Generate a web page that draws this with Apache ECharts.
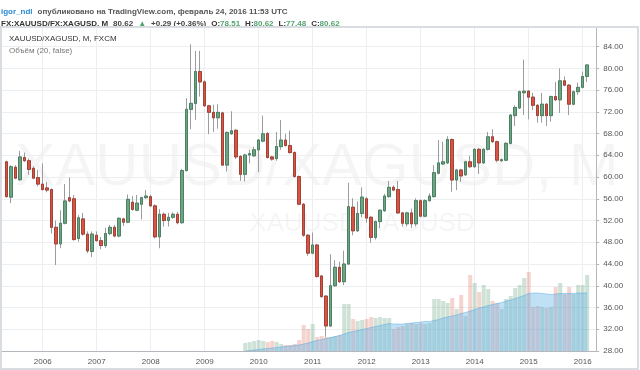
<!DOCTYPE html>
<html><head><meta charset="utf-8">
<script src="https://cdn.jsdelivr.net/npm/echarts@6/dist/echarts.min.js"></script>
<style>html,body{margin:0;padding:0;background:#fff}#c{width:640px;height:370px}</style>
</head><body><div id="c"></div>
<script>
// Month categories (first and last slots are empty padding months)
const months = [
 '2005-04','2005-05','2005-06','2005-07','2005-08','2005-09','2005-10','2005-11','2005-12',
 '2006-01','2006-02','2006-03','2006-04','2006-05','2006-06','2006-07','2006-08','2006-09','2006-10','2006-11','2006-12',
 '2007-01','2007-02','2007-03','2007-04','2007-05','2007-06','2007-07','2007-08','2007-09','2007-10','2007-11','2007-12',
 '2008-01','2008-02','2008-03','2008-04','2008-05','2008-06','2008-07','2008-08','2008-09','2008-10','2008-11','2008-12',
 '2009-01','2009-02','2009-03','2009-04','2009-05','2009-06','2009-07','2009-08','2009-09','2009-10','2009-11','2009-12',
 '2010-01','2010-02','2010-03','2010-04','2010-05','2010-06','2010-07','2010-08','2010-09','2010-10','2010-11','2010-12',
 '2011-01','2011-02','2011-03','2011-04','2011-05','2011-06','2011-07','2011-08','2011-09','2011-10','2011-11','2011-12',
 '2012-01','2012-02','2012-03','2012-04','2012-05','2012-06','2012-07','2012-08','2012-09','2012-10','2012-11','2012-12',
 '2013-01','2013-02','2013-03','2013-04','2013-05','2013-06','2013-07','2013-08','2013-09','2013-10','2013-11','2013-12',
 '2014-01','2014-02','2014-03','2014-04','2014-05','2014-06','2014-07','2014-08','2014-09','2014-10','2014-11','2014-12',
 '2015-01','2015-02','2015-03','2015-04','2015-05','2015-06','2015-07','2015-08','2015-09','2015-10','2015-11','2015-12',
 '2016-01','2016-02','2016-03','2016-04'
];
const firstBarMonth = '2005-05';

const open = [62.8,56.3,61.8,59.5,63.6,63.0,61.6,59.9,58.7,58.0,
 57.7,50.75,47.7,51.5,56.2,56.0,48.7,52.3,49.5,46.3,
 49.3,48.3,47.4,49.6,50.75,49.15,52.3,51.7,55.35,53.9,
 55.0,56.2,56.4,54.7,49.0,53.15,52.0,52.6,53.15,51.6,
 61.2,72.45,73.55,79.4,77.5,73.1,71.9,70.9,71.8,62.2,
 67.95,68.6,63.8,60.5,64.05,63.9,65.0,66.6,68.0,63.7,
 63.4,65.6,66.8,65.8,64.5,60.1,55.0,49.3,46.0,47.5,
 41.8,38.1,32.6,40.0,43.4,40.75,44.0,54.45,50.1,53.3,
 56.0,52.6,48.9,51.8,53.8,56.4,58.1,57.7,53.4,51.4,
 53.4,51.4,55.65,52.8,55.65,56.4,60.7,62.4,62.6,66.9,
 59.45,61.3,60.4,62.8,61.9,65.1,62.6,65.1,67.4,66.5,
 63.0,63.1,66.2,71.3,72.7,75.5,75.8,74.7,73.2,71.3,
 73.4,71.3,74.8,74.2,77.7,76.9,73.4,75.7,76.5,78.51];
const high = [63.0,62.2,62.2,64.8,64.5,63.4,62.0,61.3,62.5,59.1,
 57.9,52.0,53.9,58.7,59.9,56.7,53.0,53.4,50.0,50.0,
 50.0,49.0,50.7,51.2,51.2,52.6,52.5,56.8,56.5,56.7,
 56.4,57.6,56.8,55.0,54.1,53.5,53.4,53.5,53.6,61.5,
 74.5,84.4,83.2,83.2,77.8,73.3,73.3,73.4,72.0,68.4,
 72.1,68.8,64.0,64.3,65.0,65.6,67.0,71.3,68.3,63.9,
 68.3,70.5,67.95,68.5,64.7,60.3,55.2,49.5,49.8,47.7,
 42.0,38.3,45.8,44.7,44.4,46.45,58.96,56.1,55.5,58.1,
 56.3,52.8,52.0,54.0,56.9,59.3,58.5,59.3,53.6,53.6,
 54.2,56.1,55.9,55.9,57.0,62.2,66.8,66.5,67.5,67.1,
 61.5,61.5,63.0,63.9,65.3,65.3,65.3,68.3,68.8,66.7,
 63.4,66.4,71.6,73.2,75.9,81.6,76.0,75.5,73.4,75.5,
 73.6,75.0,77.5,80.0,78.5,77.1,75.9,77.35,79.4,80.62];
const low = [56.2,55.2,59.6,59.3,62.8,60.4,59.6,58.3,57.5,57.2,
 49.6,43.8,46.9,51.3,55.4,48.3,48.1,49.2,46.0,45.3,
 48.1,46.7,47.0,49.3,48.9,48.9,51.0,51.5,53.8,53.7,
 52.2,56.0,54.5,48.7,46.9,50.9,50.9,52.3,51.3,51.4,
 61.0,68.8,70.5,74.8,72.9,67.9,68.3,68.9,62.0,61.0,
 67.8,63.3,59.3,59.2,62.5,63.7,60.9,66.4,63.4,63.0,
 63.0,65.0,65.6,64.3,59.9,54.8,49.0,45.5,45.8,41.5,
 37.8,30.6,32.4,39.8,40.5,40.1,43.8,49.3,49.9,52.6,
 51.6,47.9,48.5,50.6,53.6,56.2,57.4,53.2,50.9,50.9,
 50.6,50.9,52.6,52.6,55.5,56.2,60.5,62.2,62.4,57.3,
 57.6,59.1,60.2,61.7,61.7,60.55,62.4,64.9,66.3,62.7,
 62.8,62.9,66.0,69.4,72.5,71.4,70.6,72.3,70.0,70.0,
 69.4,70.2,74.0,71.8,76.7,71.4,73.2,75.1,76.3,77.48];
const close = [56.4,61.9,59.8,63.7,63.0,61.4,59.8,58.7,57.7,57.6,
 50.75,47.7,51.5,55.6,55.6,48.5,52.5,49.5,46.4,49.5,
 48.3,47.4,49.6,50.75,49.15,52.4,51.7,55.9,54.05,55.2,
 56.2,56.5,54.7,49.0,53.15,52.0,52.6,53.15,51.6,61.2,
 72.45,73.55,79.4,77.5,73.1,71.9,70.9,71.9,62.2,68.2,
 68.5,63.7,60.5,64.05,64.3,65.0,66.8,67.95,63.6,63.3,
 65.6,66.8,65.8,64.5,60.1,55.0,49.3,46.0,47.5,41.7,
 38.0,32.6,40.0,43.4,40.75,44.0,54.55,50.1,53.3,56.3,
 52.45,48.9,51.8,53.9,56.5,58.1,57.6,53.4,51.5,53.4,
 51.4,55.65,52.8,55.65,56.5,60.8,62.6,62.8,66.9,59.45,
 61.3,60.2,62.8,61.9,65.1,62.6,65.1,67.4,66.5,63.1,
 63.2,66.2,71.4,72.8,75.7,75.8,74.7,73.2,71.3,73.4,
 71.3,74.8,74.2,77.7,76.9,73.4,75.7,76.5,78.5,80.62];

// Volume (relative units) and its 20-period average, same length as the bars
const volume = [null,null,null,null,null,null,null,null,null,null,
 null,null,null,null,null,null,null,null,null,null,
 null,null,null,null,null,null,null,null,null,null,
 null,null,null,null,null,null,null,null,null,null,
 null,null,null,null,null,null,null,null,null,null,
 null,null,null,
 8,9,10,11,10,9,10,9,7,6,
 6,7,11,26,22,27,14,15,14,14,
 15,16,47,47,32,30,31,32,34,33,
 34,33,33,22,24,25,27,28,27,28,
 27,28,52,52,50,48,53,42,56,35,
 76,68,59,66,62,50,48,42,52,55,
 63,66,73,79,44,45,44,43,44,64,
 68,57,64,57,66,66,76];
const volumeMA = [null,null,null,null,null,null,null,null,null,null,
 null,null,null,null,null,null,null,null,null,null,
 null,null,null,null,null,null,null,null,null,null,
 null,null,null,null,null,null,null,null,null,null,
 null,null,null,null,null,null,null,null,null,null,
 null,null,null,
 0,0.5,1,1.5,2,2.5,3,3.5,4,4.5,
 5,5.5,6,7,8,9.5,10.5,11.5,12.5,13.5,
 14.5,15.5,17,18.5,19.5,20.5,21.5,22.5,23.5,24.5,
 25.5,26.5,27.5,27,27,27,27.5,28,28.5,29,
 29.5,29.5,30.5,31.5,33,34,35,36,37.5,38.5,
 40,41.5,43,44,45.5,46.5,47.5,48.5,50,51,
 52.5,54,55.5,57.5,58,58,57.5,57,56.5,57,
 57.5,57.5,57.5,57.5,58,58,58];

const yTicks = {min: 28, interval: 4};

// ---- build series data aligned to categories ----
const offset = months.indexOf(firstBarMonth);
const N = open.length;
const EMPTY = ['-','-','-','-'];
function at(i){ return i - offset; }
const kFull = months.map((m,i)=>{const j=at(i); return (j<0||j>=N)?EMPTY:[open[j],close[j],low[j],high[j]];});
const kBody = months.map((m,i)=>{const j=at(i); return (j<0||j>=N)?EMPTY:[open[j],close[j],Math.min(open[j],close[j]),Math.max(open[j],close[j])];});
const volData = months.map((m,i)=>{const j=at(i); if(j<0||j>=N||volume[j]==null) return '-';
  return {value: volume[j], itemStyle:{color: close[j]>=open[j]?'rgba(107,165,131,0.32)':'rgba(215,84,66,0.26)'}};});
const maData = months.map((m,i)=>{const j=at(i); return (j<0||j>=N||volumeMA[j]==null)?'-':volumeMA[j];});
const lastClose = close[N-1];

const F = '"Liberation Sans", Arial, sans-serif';
const UP = '#6ba583', UPB = '#3f7a58', DN = '#d75442', DNB = '#9e3528';
const isJan = (idx, v) => typeof v === 'string' && v.slice(5) === '01';

const chart = echarts.init(document.getElementById('c'), null, {renderer:'canvas'});
chart.setOption({
  animation: false,
  backgroundColor: '#ffffff',
  textStyle: {fontFamily: F},
  title: [
    {left: 1, top: 3, padding: 0,
     text: '{u|igor_ndl} {t|опубликовано на TradingView.com, февраль 24, 2016 11:53 UTC}',
     textStyle: {rich: {u: {color:'#2b8ad6', fontWeight:'bold', fontSize:8, fontFamily:F},
                        t: {color:'#555', fontSize:8, fontFamily:F}}}},
    {left: 1, top: 15, padding: 0,
     text: '{b|FX:XAUUSD/FX:XAGUSD, M} {n|80.62} {g|▲} {n|+0.29 (+0.36%)} {b|O:}{g|78.51} {b|H:}{g|80.62} {b|L:}{g|77.48} {b|C:}{g|80.62}',
     textStyle: {rich: {b: {color:'#333', fontWeight:'bold', fontSize:8, fontFamily:F},
                        n: {color:'#444', fontSize:8, fontFamily:F},
                        g: {color:'#53a36f', fontSize:8, fontFamily:F}}}},
    {left: 9, top: 35, padding: 0, text: 'XAUUSD/XAGUSD, M, FXCM',
     textStyle: {fontSize: 8, color:'#333', fontWeight:'normal', fontFamily:F}},
    {left: 9, top: 47, padding: 0, text: 'Объём (20, false)',
     textStyle: {fontSize: 8, color:'#777', fontWeight:'normal', fontFamily:F}}
  ],
  graphic: [
    {type:'rect', z: 100, silent:true, shape:{x:1, y:27, width:637, height:342},
     style:{fill:'none', stroke:'#d9dde1', lineWidth:2}},
    {type:'text', z: 0, silent:true,
     style:{text:'XAUUSD/XAGUSD, M', x:317, y:168, align:'center', verticalAlign:'middle',
            textAlign:'center', textVerticalAlign:'middle',
            font:'60px "Liberation Sans", Arial, sans-serif', fill:'rgba(0,0,0,0.04)'}},
    {type:'text', z: 0, silent:true,
     style:{text:'XAUUSD/XAGUSD', x:362, y:224, align:'center', verticalAlign:'middle',
            textAlign:'center', textVerticalAlign:'middle',
            font:'26px "Liberation Sans", Arial, sans-serif', fill:'rgba(0,0,0,0.04)'}}
  ],
  grid: {left: 2.2, right: 43.8, top: 27, bottom: 19, containLabel: false},
  xAxis: {
    type: 'category', data: months, boundaryGap: false,
    axisLine: {show: true, lineStyle: {color:'#b4b8bc'}},
    axisTick: {show: false},
    axisLabel: {interval: isJan, formatter: v => v.slice(0,4), color:'#555', fontSize: 8, margin: 7, fontFamily: F},
    splitLine: {show: true, interval: isJan, lineStyle: {color:'#eceff2', width:1}}
  },
  yAxis: [
    {type:'value', position:'right', min: yTicks.min, max: 87.6, interval: yTicks.interval,
     axisLine: {show:true, lineStyle:{color:'#b4b8bc'}},
     axisTick: {show:true, length:3, lineStyle:{color:'#b4b8bc'}},
     axisLabel: {color:'#555', fontSize:8, margin:7, fontFamily:F, showMaxLabel:false,
                 formatter: v => v.toFixed(2)},
     splitLine: {show:true, lineStyle:{color:'#eceff2', width:1}}},
    {type:'value', min: 0, max: 324, show: false, splitLine:{show:false}}
  ],
  series: [
    {type:'bar', yAxisIndex:1, data: volData, barWidth: 4, z: 1, silent:true},
    {type:'line', yAxisIndex:1, data: maData, z: 2, symbol:'none', silent:true,
     lineStyle:{width:0.6, color:'rgba(70,160,220,0.7)'},
     areaStyle:{color:'rgba(90,175,232,0.55)'}},
    {type:'candlestick', data: kFull, barWidth: 3, z: 3, silent:true,
     itemStyle:{color: UP, color0: DN, borderColor:'#9a9c9e', borderColor0:'#9a9c9e', borderWidth:1}},
    {type:'candlestick', data: kBody, barWidth: 3, z: 4, silent:true,
     itemStyle:{color: UP, color0: DN, borderColor: UPB, borderColor0: DNB, borderWidth:0.8},
     markLine: {silent:true, symbol:'none', animation:false,
       lineStyle:{opacity:0},
       data: [{yAxis: lastClose}],
       label: {show:true, position:'end', distance:1, formatter: lastClose.toFixed(2),
               backgroundColor:'#5a9e78', color:'#fff', fontSize:8, padding:[2,5,2,5], fontFamily:F}}}
  ]
});
</script>
</body></html>
